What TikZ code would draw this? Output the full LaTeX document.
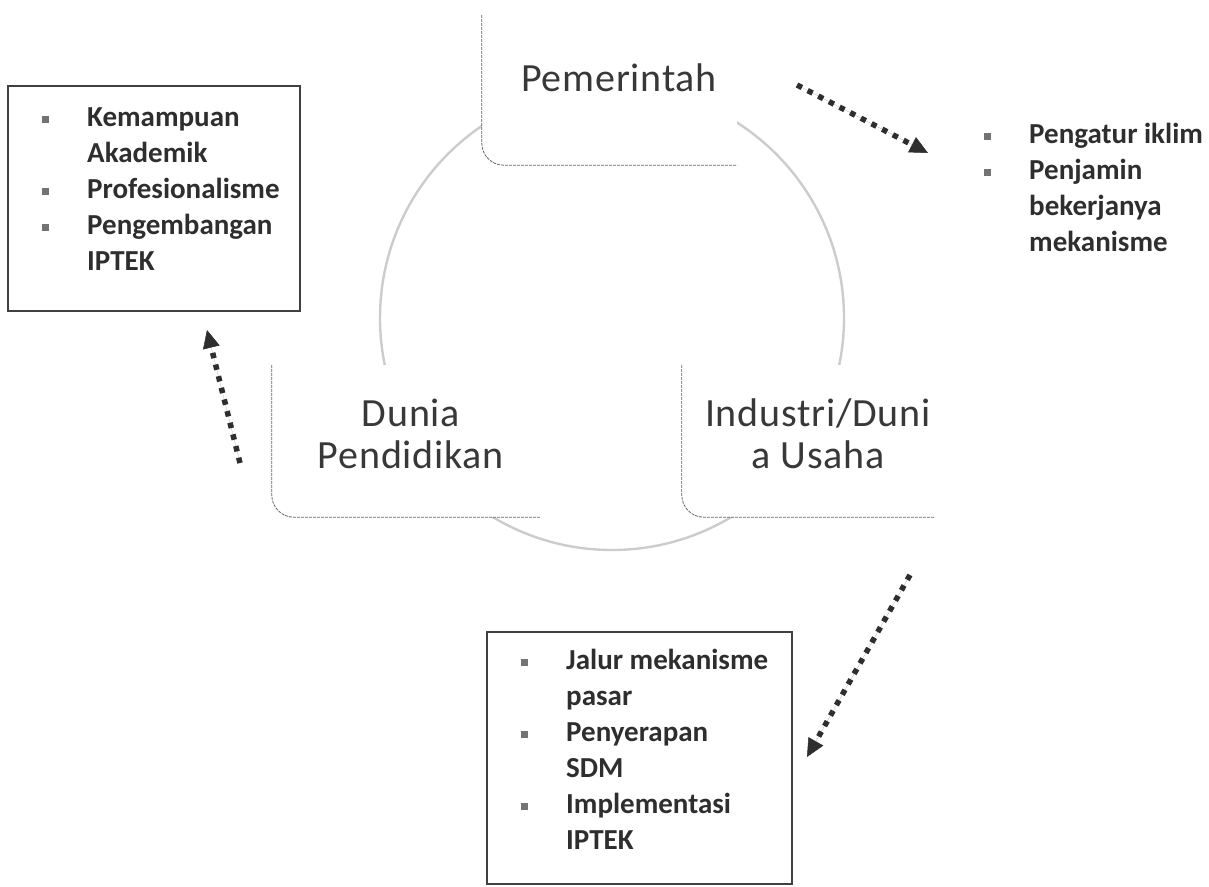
\documentclass[tikz,border=0pt]{standalone}
\usepackage{fontspec}
\setmainfont{Carlito}
\usetikzlibrary{arrows.meta}
\tikzset{
  ring/.style={draw=black!20, line width=2.4pt},
  cbox/.style={fill=white, inner sep=0pt},
  edge/.style={draw=black!60, line width=0.8pt, dash pattern=on 3pt off 1pt, rounded corners=22pt},
  bigtxt/.style={text=black!78, font=\fontsize{40}{42}\selectfont\addfontfeatures{LetterSpace=2}, align=center, inner sep=0pt},
  listbox/.style={draw=black!75, line width=1.3pt, inner sep=0pt},
  listtxt/.style={text=black!82, font=\bfseries\fontsize{29}{36}\selectfont, inner sep=0pt, anchor=base west},
  dotarrow/.style={draw=black!82, fill=black!70, line width=5.5pt, dash pattern=on 5.5pt off 6.5pt,
    -{Triangle[length=18pt,width=17pt,line width=0.5pt]}}
}
\newcommand{\bul}{\textcolor{black!55}{\rule[3.5pt]{7pt}{7pt}}}
\begin{document}
\begin{tikzpicture}[x=1pt,y=-1pt]
\useasboundingbox (0,0) rectangle (1209,886);
% cycle ring
\draw[ring] (612,318) circle[radius=232pt];
% cycle boxes
\node[cbox, minimum width=255pt, minimum height=150pt] (pem) at (609.5,90) {};
\draw[edge] (pem.north west) -- (pem.south west) -- (pem.south east);
\node[bigtxt] (pemt) at (619,78) {Pemerintah};
\node[cbox, minimum width=268pt, minimum height=152pt] (dun) at (406,441) {};
\draw[edge] (dun.north west) -- (dun.south west) -- (dun.south east);
\node[bigtxt] (dunt) at (411,434) {Dunia\\Pendidikan};
\node[cbox, minimum width=253pt, minimum height=152pt] (ind) at (808.5,441) {};
\draw[edge] (ind.north west) -- (ind.south west) -- (ind.south east);
\node[bigtxt] (indt) at (818,434) {Industri/Duni\\a Usaha};
% left list box
\node[listbox, minimum width=292pt, minimum height=225pt] (lbox) at (154,198.5) {};
\node[listtxt] (ltxt) at (42,126) {\begin{tabular}[t]{@{}p{45pt}@{}l@{}}
\bul & Kemampuan\\
 & Akademik\\
\bul & Profesionalisme\\
\bul & Pengembangan\\
 & IPTEK
\end{tabular}};
% right list
\node[listtxt] (rtxt) at (984,143) {\begin{tabular}[t]{@{}p{45pt}@{}l@{}}
\bul & Pengatur iklim\\
\bul & Penjamin\\
 & bekerjanya\\
 & mekanisme
\end{tabular}};
% bottom list box
\node[listbox, minimum width=305pt, minimum height=252pt] (bbox) at (639.5,758) {};
\node[listtxt] (btxt) at (521,669) {\begin{tabular}[t]{@{}p{45pt}@{}l@{}}
\bul & Jalur mekanisme\\
 & pasar\\
\bul & Penyerapan\\
 & SDM\\
\bul & Implementasi\\
 & IPTEK
\end{tabular}};
% arrows
\coordinate (a1s) at (797,85);
\coordinate (a1e) at (928,153);
\coordinate (a2s) at (240,463);
\coordinate (a2e) at (207,330);
\coordinate (a3s) at (910,575);
\coordinate (a3e) at (807,757);
\draw[dotarrow] (a1s) -- (a1e);
\draw[dotarrow] (a2s) -- (a2e);
\draw[dotarrow] (a3s) -- (a3e);
\end{tikzpicture}
\end{document}
